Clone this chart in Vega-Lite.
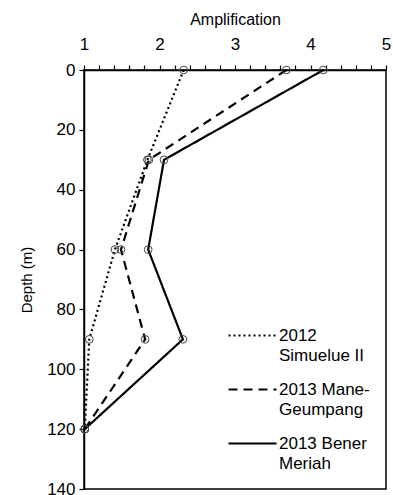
{
  "$schema": "https://vega.github.io/schema/vega-lite/v6.json",
  "width": 302,
  "height": 419,
  "autosize": {"type": "none"},
  "padding": {"left": 84, "top": 70, "right": 7, "bottom": 6},
  "background": "white",
  "config": {
    "font": "Liberation Sans",
    "view": {"stroke": "black", "strokeWidth": 1.5},
    "style": {"guide-label": {"lineHeight": 20}},
    "axis": {"labelFont": "Liberation Sans", "titleFont": "Liberation Sans", "labelColor": "black", "titleColor": "black", "domainColor": "black", "tickColor": "black", "grid": false, "labelFontSize": 17, "titleFontSize": 16, "titleFontWeight": "normal", "domainWidth": 1.5, "tickWidth": 1.2}
  },
  "data": {"values": [
    {"series": "2012 Simuelue II", "depth": 0, "amp": 2.32},
    {"series": "2012 Simuelue II", "depth": 30, "amp": 1.84},
    {"series": "2012 Simuelue II", "depth": 60, "amp": 1.41},
    {"series": "2012 Simuelue II", "depth": 90, "amp": 1.07},
    {"series": "2012 Simuelue II", "depth": 120, "amp": 1.01},
    {"series": "2013 Mane-Geumpang", "depth": 0, "amp": 3.68},
    {"series": "2013 Mane-Geumpang", "depth": 30, "amp": 1.86},
    {"series": "2013 Mane-Geumpang", "depth": 60, "amp": 1.49},
    {"series": "2013 Mane-Geumpang", "depth": 90, "amp": 1.81},
    {"series": "2013 Mane-Geumpang", "depth": 120, "amp": 1.01},
    {"series": "2013 Bener Meriah", "depth": 0, "amp": 4.17},
    {"series": "2013 Bener Meriah", "depth": 30, "amp": 2.06},
    {"series": "2013 Bener Meriah", "depth": 60, "amp": 1.85},
    {"series": "2013 Bener Meriah", "depth": 90, "amp": 2.31},
    {"series": "2013 Bener Meriah", "depth": 120, "amp": 1.01}
  ]},
  "encoding": {
    "x": {"field": "amp", "type": "quantitative", "scale": {"domain": [1, 5], "nice": false, "zero": false},
      "axis": {"orient": "top", "title": "Amplification", "values": [1,1.2,1.4,1.6,1.8,2,2.2,2.4,2.6,2.8,3,3.2,3.4,3.6,3.8,4,4.2,4.4,4.6,4.8,5],
        "labelExpr": "datum.value % 1 == 0 ? format(datum.value, 'd') : ''", "tickSize": 5, "labelPadding": 12, "titlePadding": 8, "labelFlush": false, "labelOverlap": false}},
    "y": {"field": "depth", "type": "quantitative", "scale": {"domain": [0, 140], "reverse": true, "nice": false},
      "axis": {"title": "Depth (m)", "titleFontSize": 15, "values": [0,20,40,60,80,100,120,140], "tickSize": 5, "labelPadding": 4, "titlePadding": 12, "labelFlush": false}}
  },
  "layer": [
    {
      "mark": {"type": "line", "color": "black", "strokeWidth": 2.2},
      "encoding": {
        "order": {"field": "depth", "type": "quantitative"},
        "strokeDash": {"field": "series", "type": "nominal",
          "scale": {"domain": ["2012 Simuelue II", "2013 Mane-Geumpang", "2013 Bener Meriah"], "range": [[2, 3], [9, 6], [1, 0]]},
          "legend": {"title": null, "orient": "none", "legendX": 143, "legendY": 240, "symbolType": "stroke", "symbolSize": 2304, "symbolStrokeWidth": 2.2, "symbolStrokeColor": "black", "labelFontSize": 17, "labelFont": "Liberation Sans", "labelColor": "black", "labelOffset": 1, "rowPadding": 0,
            "labelExpr": "datum.label == '2012 Simuelue II' ? ['2012', 'Simuelue II'] : datum.label == '2013 Mane-Geumpang' ? ['2013 Mane-', 'Geumpang'] : ['2013 Bener', 'Meriah']"}
        }
      }
    },
    {
      "mark": {"type": "point", "shape": "circle", "filled": false, "stroke": "#444", "strokeWidth": 1, "size": 60, "opacity": 1}
    }
  ]
}
